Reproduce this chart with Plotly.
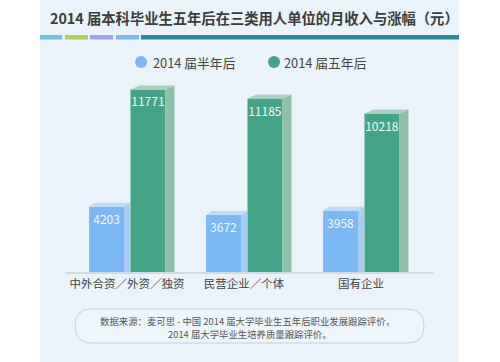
import plotly.graph_objects as go
import numpy as np

# ---- data ----
categories = ['中外合资／外资／独资', '民营企业／个体', '国有企业']
half_year = [4203, 3672, 3958]
five_year = [11771, 11185, 10218]
series_names = ['2014 届半年后', '2014 届五年后']
title_text = '2014 届本科毕业生五年后在三类用人单位的月收入与涨幅（元）'
source_lines = ['数据来源：麦可思 - 中国 2014 届大学毕业生五年后职业发展跟踪评价，',
                '2014 届大学毕业生培养质量跟踪评价。']

FONT = 'Noto Sans CJK SC'
W, H = 500, 362
ML, MR, MT, MB = 65, 67, 80, 90
PW, PH = W - ML - MR, H - MT - MB
YMAX = 12379


def X(px):
    return (px - ML) / PW


def Y(py):
    return (H - MB - py) / PH


pos = np.arange(len(categories))
bw = 0.299
off_blue, off_green = -0.175, 0.179
dx_blue, dx_green = 0.051, 0.077
dv = 4 * YMAX / PH

colors = dict(bf='#7db8f6', bs='#a8cdf8', bt='#bfdcfb',
              gf='#45a487', gs='#8fc0a9', gt='#a9d3bf')

fig = go.Figure()


def side_poly(vals, off, dx):
    xs, ys = [], []
    for p, v in zip(pos, vals):
        xr = p + off + bw / 2
        xs += [xr, xr, xr + dx, xr + dx, xr, None]
        ys += [0, v, v + dv, 0, 0, None]
    return xs, ys


def top_poly(vals, off, dx):
    xs, ys = [], []
    for p, v in zip(pos, vals):
        xl = p + off - bw / 2
        xr = p + off + bw / 2
        xs += [xl, xr, xr + dx, xl + dx, xl, None]
        ys += [v, v, v + dv, v + dv, v, None]
    return xs, ys


for vals, off, dx, front, side, top in [
        (half_year, off_blue, dx_blue, colors['bf'], colors['bs'], colors['bt']),
        (five_year, off_green, dx_green, colors['gf'], colors['gs'], colors['gt'])]:
    fig.add_trace(go.Bar(x=pos + off, y=vals, width=bw, marker_color=front,
                         marker_line_width=0, text=vals, texttemplate='%{text}',
                         textposition='inside', insidetextanchor='end',
                         constraintext='none', textangle=0,
                         textfont=dict(family=FONT, size=12, color='#f4f8fa'),
                         showlegend=False, hoverinfo='skip'))
    sx, sy = side_poly(vals, off, dx)
    fig.add_trace(go.Scatter(x=sx, y=sy, mode='lines', fill='toself', fillcolor=side,
                             line=dict(width=0, color=side), showlegend=False, hoverinfo='skip'))
    tx, ty = top_poly(vals, off, dx)
    fig.add_trace(go.Scatter(x=tx, y=ty, mode='lines', fill='toself', fillcolor=top,
                             line=dict(width=0, color=top), showlegend=False, hoverinfo='skip'))

shapes = []
# background panel
shapes.append(dict(type='rect', xref='paper', yref='paper', x0=X(40), x1=X(459),
                   y0=Y(362), y1=Y(0), fillcolor='#eaf3fa', line_width=0, layer='below'))
# colour strip
for x0, x1, c in [(40, 62, '#6cc5de'), (65, 88, '#a9d45c'), (90, 113, '#a79cf0'),
                  (116, 139, '#7cb6f3'), (141, 459, '#2b8b95')]:
    shapes.append(dict(type='rect', xref='paper', yref='paper', x0=X(x0), x1=X(x1),
                       y0=Y(39.5), y1=Y(35), fillcolor=c, line_width=0, layer='below'))
# legend circles
for cx, c in [(141, colors['bf']), (274, colors['gf'])]:
    shapes.append(dict(type='circle', xref='paper', yref='paper', x0=X(cx - 6), x1=X(cx + 6),
                       y0=Y(68), y1=Y(56), fillcolor=c, line_width=0))
# rounded source box
bx0, bx1, by0, by1, r = 75, 424, 309, 343, 17
path = (f"M {X(bx0 + r)},{Y(by0)} L {X(bx1 - r)},{Y(by0)} "
        f"Q {X(bx1)},{Y(by0)} {X(bx1)},{Y(by0 + r)} "
        f"Q {X(bx1)},{Y(by1)} {X(bx1 - r)},{Y(by1)} "
        f"L {X(bx0 + r)},{Y(by1)} "
        f"Q {X(bx0)},{Y(by1)} {X(bx0)},{Y(by1 - r)} "
        f"Q {X(bx0)},{Y(by0)} {X(bx0 + r)},{Y(by0)} Z")
shapes.append(dict(type='path', xref='paper', yref='paper', path=path,
                   fillcolor='#edf5fb', line=dict(color='#c5d0da', width=1), layer='below'))

annotations = [
    dict(text=f'<b>{title_text}</b>', xref='paper', yref='paper', x=X(48), y=Y(17),
         xanchor='left', yanchor='middle', showarrow=False,
         font=dict(family=FONT, size=14.3, color='#3c3c3c')),
    dict(text=series_names[0], xref='paper', yref='paper', x=X(151), y=Y(62),
         xanchor='left', yanchor='middle', showarrow=False,
         font=dict(family=FONT, size=12.8, color='#444')),
    dict(text=series_names[1], xref='paper', yref='paper', x=X(282), y=Y(62),
         xanchor='left', yanchor='middle', showarrow=False,
         font=dict(family=FONT, size=12.8, color='#444')),
    dict(text=source_lines[0], xref='paper', yref='paper', x=X(247), y=Y(321),
         xanchor='center', yanchor='middle', showarrow=False,
         font=dict(family=FONT, size=9.4, color='#555')),
    dict(text=source_lines[1], xref='paper', yref='paper', x=X(250), y=Y(333.5),
         xanchor='center', yanchor='middle', showarrow=False,
         font=dict(family=FONT, size=9.4, color='#555')),
]

fig.update_layout(
    width=W, height=H, margin=dict(l=ML, r=MR, t=MT, b=MB, autoexpand=False),
    paper_bgcolor='white', plot_bgcolor='rgba(0,0,0,0)',
    barmode='overlay', shapes=shapes, annotations=annotations,
    font=dict(family=FONT),
    xaxis=dict(range=[-0.53, 2.615], tickvals=pos, ticktext=categories,
               showgrid=False, zeroline=False, showline=True, linecolor='#cfdbe5',
               linewidth=2, ticks='', tickfont=dict(family=FONT, size=11.5, color='#444'),
               automargin=False, fixedrange=True),
    yaxis=dict(range=[0, YMAX], visible=False, automargin=False, fixedrange=True),
)

fig.write_html('out.html', config={'displayModeBar': False},
               post_script="document.body.style.margin='0';")
